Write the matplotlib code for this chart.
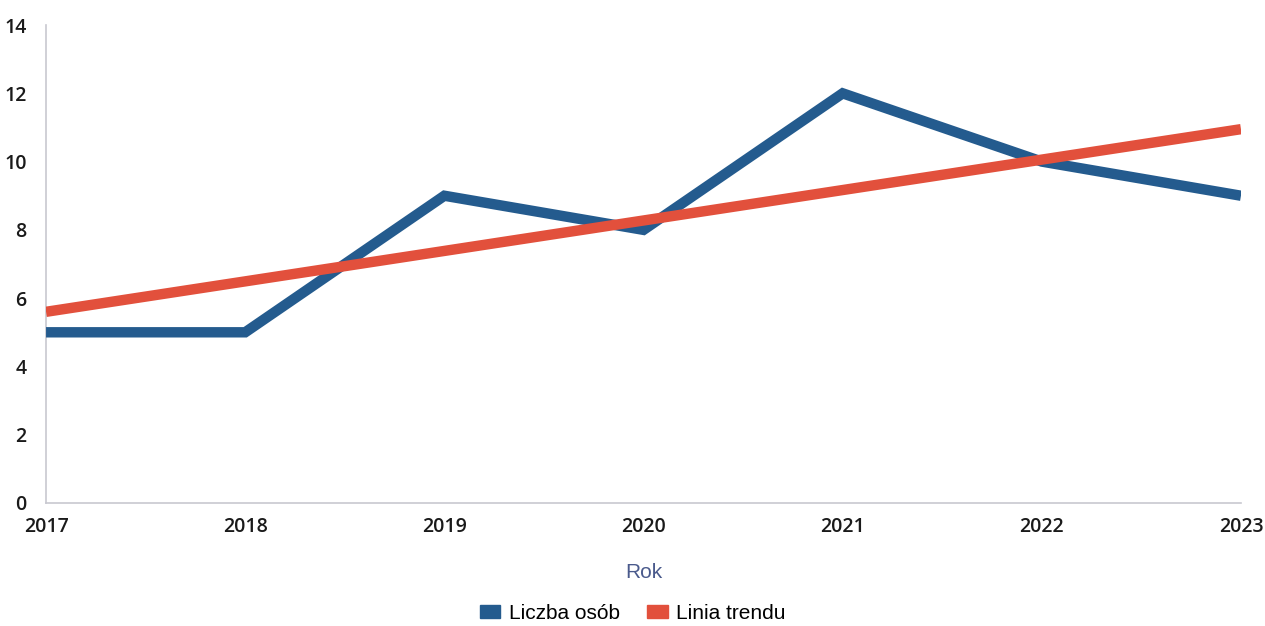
import matplotlib
matplotlib.use("Agg")
import matplotlib.pyplot as plt
from matplotlib.patches import Patch

years = [2017, 2018, 2019, 2020, 2021, 2022, 2023]
liczba_osob = [5, 5, 9, 8, 12, 10, 9]
trend_years = [2017, 2023]
trend_values = [5.6, 10.95]
y_ticks = [0, 2, 4, 6, 8, 10, 12, 14]

blue = "#245b8e"
red = "#e2503c"

fig = plt.figure(figsize=(12.65, 6.26), dpi=100)
ax = fig.add_axes([0.0364, 0.1965, 0.9446, 0.7635])

ax.plot(years, liczba_osob, color=blue, lw=7.5, solid_joinstyle="miter", solid_capstyle="butt", zorder=3)
ax.plot(trend_years, trend_values, color=red, lw=7.5, solid_capstyle="butt", zorder=4)

ax.set_xlim(2017, 2023)
ax.set_ylim(0, 14)
ax.set_xticks(years)
ax.set_xticklabels([str(y) for y in years])
ax.set_yticks(y_ticks)
ax.tick_params(length=0, labelsize=14, colors="#1a1a1a")
ax.tick_params(axis="x", pad=10)
ax.tick_params(axis="y", pad=14)
for lab in ax.get_xticklabels() + ax.get_yticklabels():
    lab.set_fontfamily("Open Sans")
    lab.set_fontweight("semibold")
for s in ["top", "right"]:
    ax.spines[s].set_visible(False)
for s in ["left", "bottom"]:
    ax.spines[s].set_color("#c8c8d0")
    ax.spines[s].set_linewidth(1.2)

ax.set_xlabel("Rok", fontsize=15, color="#4a5a8c", fontfamily="Liberation Sans", labelpad=19)

handles = [Patch(facecolor=blue, edgecolor=blue), Patch(facecolor=red, edgecolor=red)]
fig.legend(handles, ["Liczba osób", "Linia trendu"], loc="center", bbox_to_anchor=(0.5, 0.02),
           ncol=2, frameon=False, prop={"family": "Liberation Sans", "size": 15},
           handlelength=1.0, handleheight=0.55, handletextpad=0.4, columnspacing=1.3)

fig.savefig("out.png", dpi=100)
